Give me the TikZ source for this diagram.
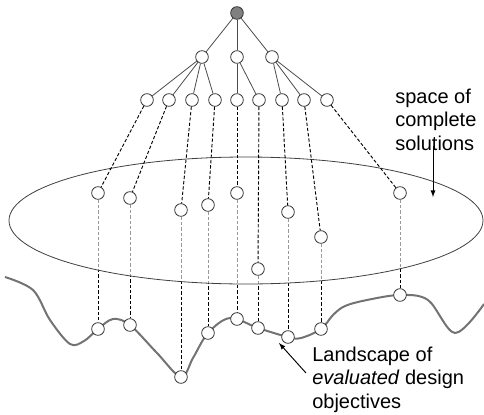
\documentclass[tikz,border=0pt]{standalone}
\usepackage{fontspec}
\setmainfont{Liberation Sans}
\usetikzlibrary{arrows}

\pgfdeclarelayer{bg}
\pgfdeclarelayer{veil}
\pgfsetlayers{bg,veil,main}

\begin{document}
\begin{tikzpicture}[x=0.75pt, y=-0.75pt,
    vertex/.style={circle, draw=black!80, fill=white, line width=0.6pt, inner sep=0pt, minimum size=9.5pt},
    rootvertex/.style={vertex, fill=black!50},
    edge/.style={draw=black!70, line width=0.6pt},
    dashedge/.style={draw=black, line width=0.7pt, dash pattern=on 2.5pt off 1.5pt},
    vline/.style={draw=black, line width=0.6pt, dash pattern=on 2.5pt off 1.5pt},
    landscape/.style={draw=black!55, line width=1.5pt},
    caption/.style={font=\fontsize{15pt}{17.6pt}\selectfont, align=left, inner sep=0pt},
    pointer/.style={-latex, draw=black, line width=0.7pt}]

    \useasboundingbox (0,0) rectangle (484,414);

    % tree
    \node[rootvertex] (Root) at (237,13) {};
    \foreach \x [count=\i] in {202,237,272}
        \node[vertex] (Lvl1-\i) at (\x,57) {};
    \foreach \x [count=\i] in {147,169,192,215,237,259,282,304,327}
        \node[vertex] (Lvl2-\i) at (\x,100) {};

    % complete solutions and their evaluations
    \foreach \x/\y [count=\i] in {98/193, 130/198, 181/210, 208/205, 237/193, 258/269, 288/212, 321/237, 400/193}
        \node[vertex] (Sol-\i) at (\x,\y) {};
    \foreach \x/\y [count=\i] in {98/329, 130/325, 181/377, 208/333, 237/319, 258/328, 288/337, 321/329, 400/295}
        \node[vertex] (Obj-\i) at (\x,\y) {};

    \foreach \i in {1,2,3}
        \draw[edge] (Root) -- (Lvl1-\i);
    \foreach \i in {1,...,4}
        \draw[edge] (Lvl1-1) -- (Lvl2-\i);
    \foreach \i in {5,6}
        \draw[edge] (Lvl1-2) -- (Lvl2-\i);
    \foreach \i in {7,8,9}
        \draw[edge] (Lvl1-3) -- (Lvl2-\i);
    \foreach \i in {1,...,9}
        \draw[dashedge] (Lvl2-\i) -- (Sol-\i);

    \begin{pgfonlayer}{bg}
        \foreach \i in {1,...,9}
            \draw[vline] (Sol-\i) -- (Obj-\i);
    \end{pgfonlayer}

    \begin{pgfonlayer}{veil}
        % space of complete solutions
        \draw[draw=black!75, line width=0.6pt, fill=white, fill opacity=0.6]
            (246,220.5) ellipse [x radius=237, y radius=63.5];
        % landscape
        \draw[landscape] plot[smooth, tension=0.55] coordinates {
            (5,277) (33,290) (50,320) (70,344) (84,341) (98,329) (113,319)
            (130,325) (157,353) (181,377) (193,358) (208,333) (230,318)
            (258,328) (288,337) (301,338) (321,329) (333,315) (345,306)
            (367,300) (400,295) (428,300) (455,333) (484,304)};
    \end{pgfonlayer}

    % labels (base = last line)
    \node[caption, anchor=base west] (SpaceText) at (395,150) {space of\\complete\\solutions};
    \coordinate (SpaceTip) at (433,197);
    \draw[pointer] (433,146) -- (SpaceTip);

    \node[caption, anchor=base west] (LandText) at (312,408) {Landscape of\\\textit{evaluated} design\\objectives};
    \coordinate (LandTail) at (306,373);
    \coordinate (LandTip) at (279,343);
    \draw[pointer] (LandTail) -- (LandTip);

\end{tikzpicture}
\end{document}
